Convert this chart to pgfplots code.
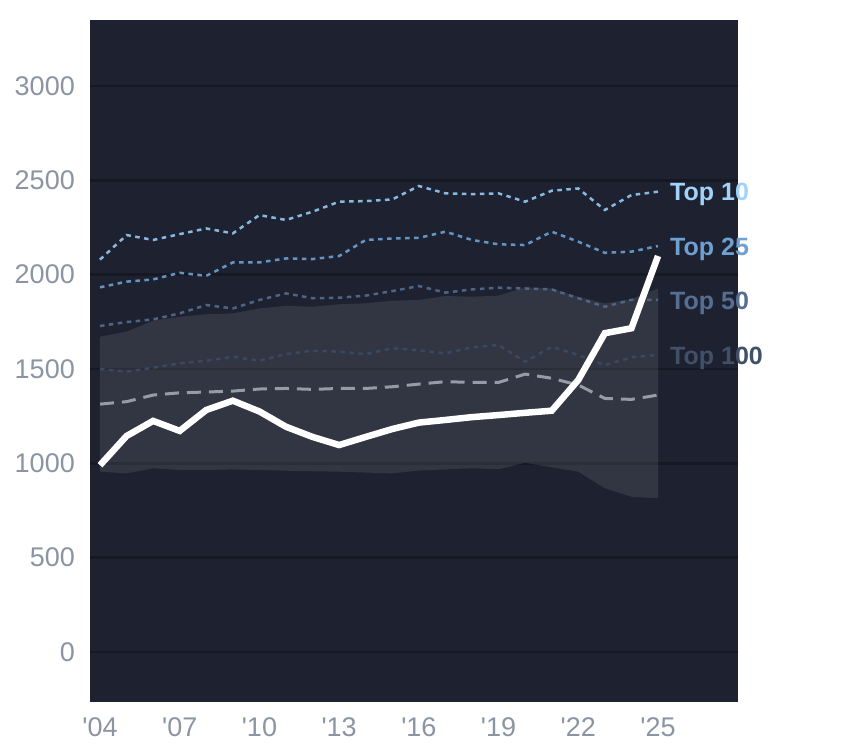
\documentclass[border=0pt]{standalone}
\usepackage{pgfplots}
\pgfplotsset{compat=1.18}
\usepackage{fontspec}
\setmainfont{Liberation Sans}
\definecolor{bg}{RGB}{30,34,48}
\definecolor{gridc}{RGB}{22,25,36}
\definecolor{tickc}{RGB}{138,148,163}
\definecolor{t10}{RGB}{135,185,225}
\definecolor{t10l}{RGB}{160,210,250}
\definecolor{t25}{RGB}{100,148,195}
\definecolor{t25l}{RGB}{110,160,210}
\definecolor{t50}{RGB}{75,100,135}
\definecolor{t50l}{RGB}{85,110,145}
\definecolor{t100}{RGB}{58,72,98}
\definecolor{t100l}{RGB}{65,80,105}
\definecolor{medc}{RGB}{150,155,166}
\begin{document}
\begin{tikzpicture}
\useasboundingbox (0,0) rectangle (844pt,748pt);
\begin{axis}[
  at={(90pt,46pt)}, anchor=south west,
  width=648pt, height=682pt, scale only axis,
  xmin=2003.624, xmax=2028.01,
  ymin=-265, ymax=3350,
  axis background/.style={fill=bg},
  axis line style={draw=none},
  major tick length=0pt,
  ytick={0,500,1000,1500,2000,2500,3000},
  xtick={2004,2007,2010,2013,2016,2019,2022,2025},
  xticklabels={\textquotesingle04,\textquotesingle07,\textquotesingle10,\textquotesingle13,\textquotesingle16,\textquotesingle19,\textquotesingle22,\textquotesingle25},
  /pgf/number format/assume math mode=true,
  /pgf/number format/1000 sep={},
  ymajorgrids,
  grid style={draw=gridc, line width=2.5pt},
  ticklabel style={font=\fontsize{27}{27}\selectfont, text=tickc, inner sep=0pt},
  yticklabel style={anchor=east, xshift=-15pt},
  xticklabel style={anchor=north, yshift=-15pt},
  clip=false,
]
% band
\addplot[draw=none, fill=white, fill opacity=0.09] coordinates {
(2004,1671)(2005,1698)(2006,1756)(2007,1777)(2008,1790)(2009,1795)(2010,1821)(2011,1835)(2012,1830)(2013,1843)(2014,1848)(2015,1862)(2016,1866)(2017,1887)(2018,1883)(2019,1889)(2020,1933)(2021,1927)(2022,1883)(2023,1848)(2024,1871)(2025,1927)
(2025,815)(2024,823)(2023,868)(2022,956)(2021,979)(2020,1003)(2019,969)(2018,974)(2017,968)(2016,962)(2015,947)(2014,951)(2013,956)(2012,958)(2011,961)(2010,965)(2009,968)(2008,965)(2007,965)(2006,974)(2005,947)(2004,956)
} -- cycle;
% Top 100
\addplot[t100, line width=2.5pt, dash pattern=on 4.5pt off 4.5pt] coordinates {
(2004,1500)(2005,1486)(2006,1507)(2007,1530)(2008,1544)(2009,1565)(2010,1544)(2011,1579)(2012,1597)(2013,1592)(2014,1579)(2015,1610)(2016,1599)(2017,1583)(2018,1615)(2019,1627)(2020,1539)(2021,1618)(2022,1574)(2023,1521)(2024,1562)(2025,1574)};
% Top 50
\addplot[t50, line width=2.5pt, dash pattern=on 4.5pt off 4.5pt] coordinates {
(2004,1728)(2005,1749)(2006,1763)(2007,1795)(2008,1839)(2009,1821)(2010,1866)(2011,1901)(2012,1875)(2013,1878)(2014,1889)(2015,1913)(2016,1940)(2017,1905)(2018,1922)(2019,1931)(2020,1927)(2021,1922)(2022,1875)(2023,1830)(2024,1866)(2025,1866)};
% Top 25
\addplot[t25, line width=2.5pt, dash pattern=on 4.5pt off 4.5pt] coordinates {
(2004,1933)(2005,1963)(2006,1975)(2007,2010)(2008,1994)(2009,2065)(2010,2065)(2011,2086)(2012,2083)(2013,2099)(2014,2184)(2015,2192)(2016,2195)(2017,2228)(2018,2184)(2019,2161)(2020,2157)(2021,2228)(2022,2175)(2023,2116)(2024,2122)(2025,2152)};
% Top 10
\addplot[t10, line width=2.5pt, dash pattern=on 4.5pt off 4.5pt] coordinates {
(2004,2080)(2005,2210)(2006,2184)(2007,2215)(2008,2245)(2009,2219)(2010,2316)(2011,2290)(2012,2334)(2013,2387)(2014,2390)(2015,2399)(2016,2470)(2017,2431)(2018,2427)(2019,2431)(2020,2387)(2021,2445)(2022,2457)(2023,2343)(2024,2422)(2025,2440)};
% grey dashed
\addplot[medc, line width=3pt, dash pattern=on 14pt off 8pt] coordinates {
(2004,1314)(2005,1327)(2006,1362)(2007,1374)(2008,1378)(2009,1383)(2010,1394)(2011,1397)(2012,1392)(2013,1397)(2014,1397)(2015,1406)(2016,1420)(2017,1433)(2018,1429)(2019,1429)(2020,1473)(2021,1451)(2022,1415)(2023,1344)(2024,1339)(2025,1362)};
% main
\addplot[white, line width=6.5pt, line join=miter] coordinates {
(2004,990)(2005,1145)(2006,1225)(2007,1172)(2008,1283)(2009,1332)(2010,1275)(2011,1194)(2012,1140)(2013,1097)(2014,1140)(2015,1182)(2016,1216)(2017,1230)(2018,1245)(2019,1256)(2020,1268)(2021,1279)(2022,1442)(2023,1690)(2024,1716)(2025,2099)};
\node[anchor=west, inner sep=0pt, xshift=12pt, yshift=-3pt, text=t10l, font=\fontsize{25}{25}\selectfont\bfseries] at (axis cs:2025,2440) {Top 10};
\node[anchor=west, inner sep=0pt, xshift=12pt, yshift=-3pt, text=t25l, font=\fontsize{25}{25}\selectfont\bfseries] at (axis cs:2025,2152) {Top 25};
\node[anchor=west, inner sep=0pt, xshift=12pt, yshift=-3pt, text=t50l, font=\fontsize{25}{25}\selectfont\bfseries] at (axis cs:2025,1866) {Top 50};
\node[anchor=west, inner sep=0pt, xshift=12pt, yshift=-3pt, text=t100l, font=\fontsize{25}{25}\selectfont\bfseries] at (axis cs:2025,1574) {Top 100};
\end{axis}
\end{tikzpicture}
\end{document}
